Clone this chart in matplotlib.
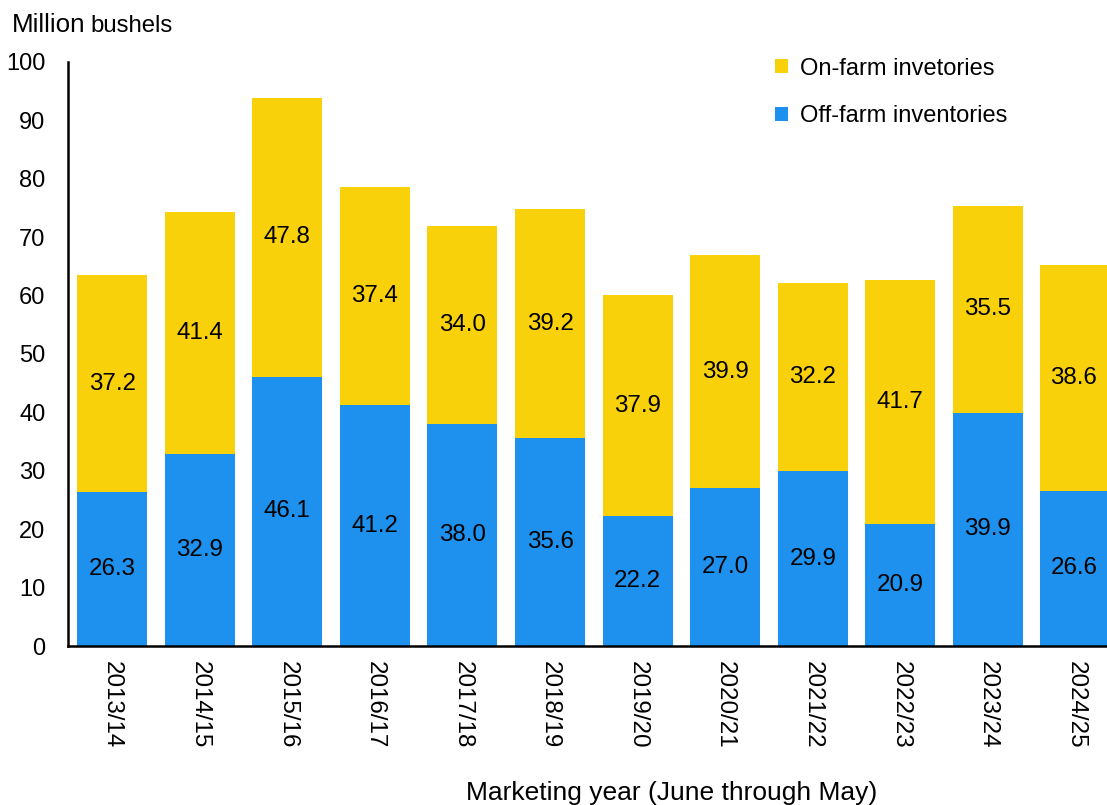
import matplotlib
matplotlib.use("Agg")
import matplotlib.pyplot as plt
import numpy as np

plt.rcParams["font.family"] = ["Liberation Sans", "DejaVu Sans"]

years = ["2013/14", "2014/15", "2015/16", "2016/17", "2017/18", "2018/19",
         "2019/20", "2020/21", "2021/22", "2022/23", "2023/24", "2024/25"]
off_farm = [26.3, 32.9, 46.1, 41.2, 38.0, 35.6, 22.2, 27.0, 29.9, 20.9, 39.9, 26.6]
on_farm = [37.2, 41.4, 47.8, 37.4, 34.0, 39.2, 37.9, 39.9, 32.2, 41.7, 35.5, 38.6]

BLUE = "#1D91ED"
YELLOW = "#F9D10B"
FS = 17.4

W, H = 1107, 805
fig = plt.figure(figsize=(W / 100, H / 100), dpi=100)
ax = fig.add_axes([67.5 / W, 1 - 646 / H, (W - 67.5) / W, (646 - 62) / H])

x = np.arange(len(years))
b_off = ax.bar(x, off_farm, width=0.8, color=BLUE, label="Off-farm inventories")
b_on = ax.bar(x, on_farm, width=0.8, bottom=off_farm, color=YELLOW,
              label="On-farm invetories")
ax.bar_label(b_off, labels=[f"{v:.1f}" for v in off_farm], label_type="center",
             fontsize=FS, color="black")
ax.bar_label(b_on, labels=[f"{v:.1f}" for v in on_farm], label_type="center",
             fontsize=FS, color="black")

ax.set_xlim(-0.51, 11.36)
ax.set_ylim(0, 100)
ax.set_yticks(range(0, 101, 10))
ax.set_xticks(x)
ax.set_xticklabels(years, rotation=270, fontsize=FS)
ax.tick_params(axis="y", length=0, pad=16, labelsize=17)
ax.tick_params(axis="x", length=0, pad=11)
for s in ["top", "right"]:
    ax.spines[s].set_visible(False)
for s in ["left", "bottom"]:
    ax.spines[s].set_linewidth(1.8)
    ax.spines[s].set_color("black")

handles = [b_on, b_off]
leg = ax.legend(handles, [h.get_label() for h in handles], frameon=False,
                loc="upper left", bbox_to_anchor=(775 / W, 1 - 57.5 / H),
                bbox_transform=fig.transFigure, fontsize=17,
                handlelength=0.56, handleheight=0.56, handletextpad=0.5,
                labelspacing=1.1, borderpad=0, borderaxespad=0)

t1 = fig.text(11.5 / W, 1 - 32.5 / H, "Million", fontsize=18.7, va="baseline", ha="left")
ax.annotate("bushels", xy=(1, 0), xycoords=t1, xytext=(4, 0),
            textcoords="offset points", fontsize=17.2, va="bottom", ha="left")

fig.text(672 / W, 1 - 793 / H, "Marketing year (June through May)",
         fontsize=19, ha="center", va="center")

fig.savefig("out.png", dpi=100)
